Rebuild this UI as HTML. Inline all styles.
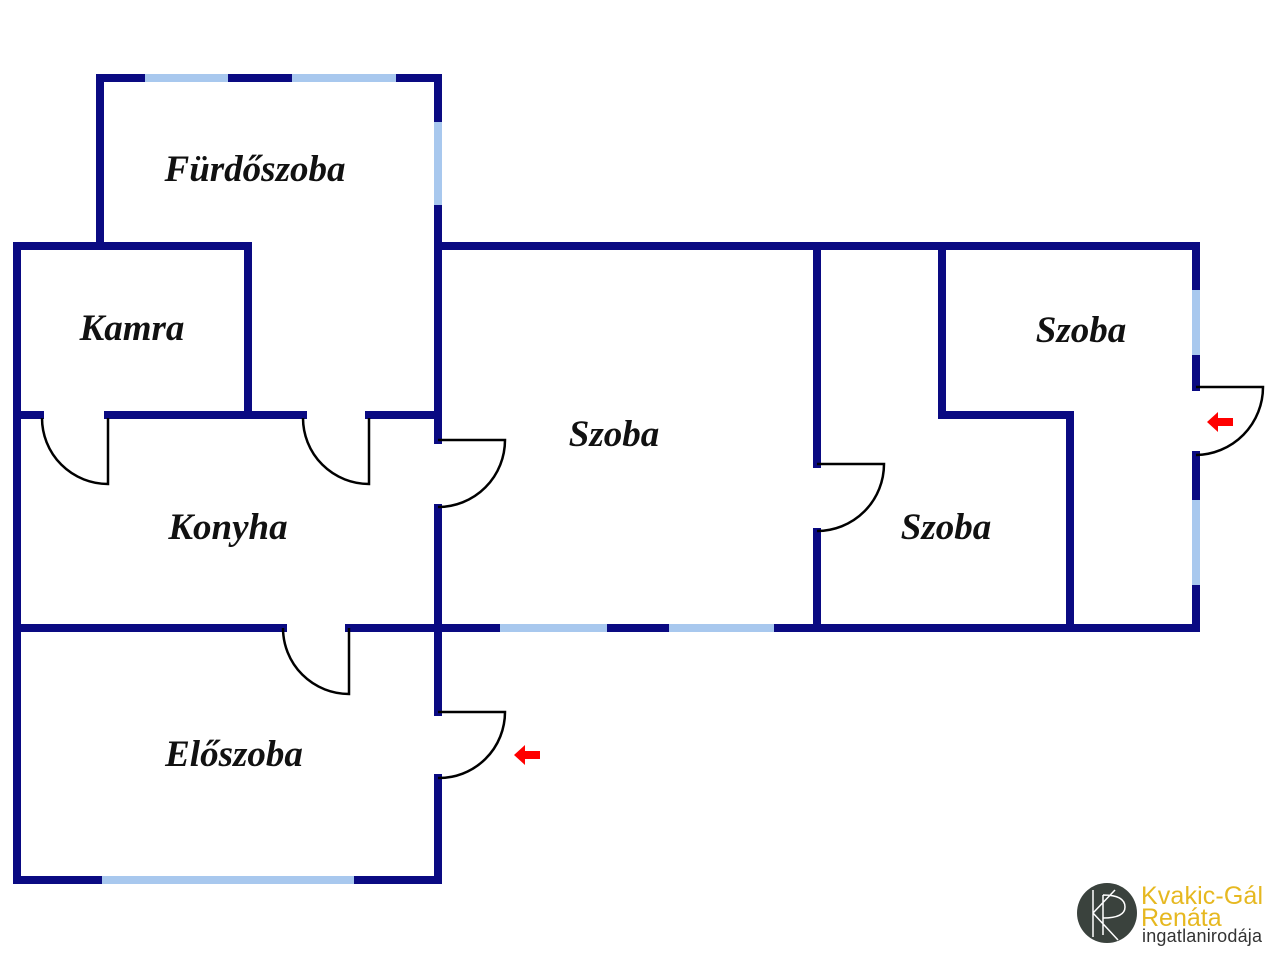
<!DOCTYPE html>
<html><head><meta charset="utf-8"><style>
html,body{margin:0;padding:0;background:#fff;width:1280px;height:960px;overflow:hidden}
</style></head><body>
<svg width="1280" height="960" viewBox="0 0 1280 960" xmlns="http://www.w3.org/2000/svg">
<g stroke="#0a0a82" stroke-width="8" stroke-linecap="square" fill="none">
<path d="M100 246 V78 H438 V440"/>
<path d="M438 508 V712"/>
<path d="M438 778 V880 H17 V246 H248 V415"/>
<path d="M438 246 H1196 V387"/>
<path d="M1196 455 V628 H17"/>
<path d="M17 415 H40"/>
<path d="M108 415 H303"/>
<path d="M369 415 H438"/>
<path d="M817 246 V464"/>
<path d="M817 532 V628"/>
<path d="M942 246 V415 H1070 V628"/>
</g>
<rect x="287" y="622" width="58" height="12" fill="#fff"/>
<g stroke="#a8c8ee" stroke-width="8">
<path d="M145 78 H228"/>
<path d="M292 78 H396"/>
<path d="M438 122 V205"/>
<path d="M500 628 H607"/>
<path d="M669 628 H774"/>
<path d="M102 880 H354"/>
<path d="M1196 290 V355"/>
<path d="M1196 500 V585"/>
</g>
<g stroke="#000" stroke-width="2.5" fill="none">
<path d="M108 418 V484 A66 66 0 0 1 42 418"/>
<path d="M369 418 V484 A66 66 0 0 1 303 418"/>
<path d="M349 628 V694 A66 66 0 0 1 283 628"/>
<path d="M438 440 H505 A67 67 0 0 1 438 507"/>
<path d="M438 712 H505 A66 66 0 0 1 438 778"/>
<path d="M817 464 H884 A67 67 0 0 1 817 531"/>
<path d="M1196 387 H1263 A68 68 0 0 1 1196 455"/>
</g>
<g fill="#f00">
<path d="M1207 422 L1218 412 V418 H1233 V426 H1218 V432 Z"/>
<path d="M514 755 L525 745 V751 H540 V759 H525 V765 Z"/>
</g>
<g font-family="'Liberation Serif',serif" font-weight="bold" font-style="italic" font-size="37" fill="#111" text-anchor="middle">
<text x="255" y="181">Fürdőszoba</text>
<text x="132" y="340">Kamra</text>
<text x="228" y="539">Konyha</text>
<text x="614" y="446">Szoba</text>
<text x="946" y="539">Szoba</text>
<text x="1081" y="342">Szoba</text>
<text x="234" y="766">Előszoba</text>
</g>
<circle cx="1107" cy="913" r="30" fill="#3a423d"/>
<g stroke="#fff" stroke-width="1.5" fill="none">
<path d="M1093 890 V937 M1093 913 L1115 890 M1093 913 L1118 940 M1103 895 V935 M1103 895 Q1125 895 1125 907 Q1125 918 1103 918"/>
</g>
<g font-family="'Liberation Sans',sans-serif">
<text x="1141" y="904" font-size="25" fill="#e6b820" textLength="122">Kvakic-Gál</text>
<text x="1141" y="926" font-size="25" fill="#e6b820">Renáta</text>
<text x="1142" y="942" font-size="18" fill="#333" textLength="120">ingatlanirodája</text>
</g>
</svg>
</body></html>
